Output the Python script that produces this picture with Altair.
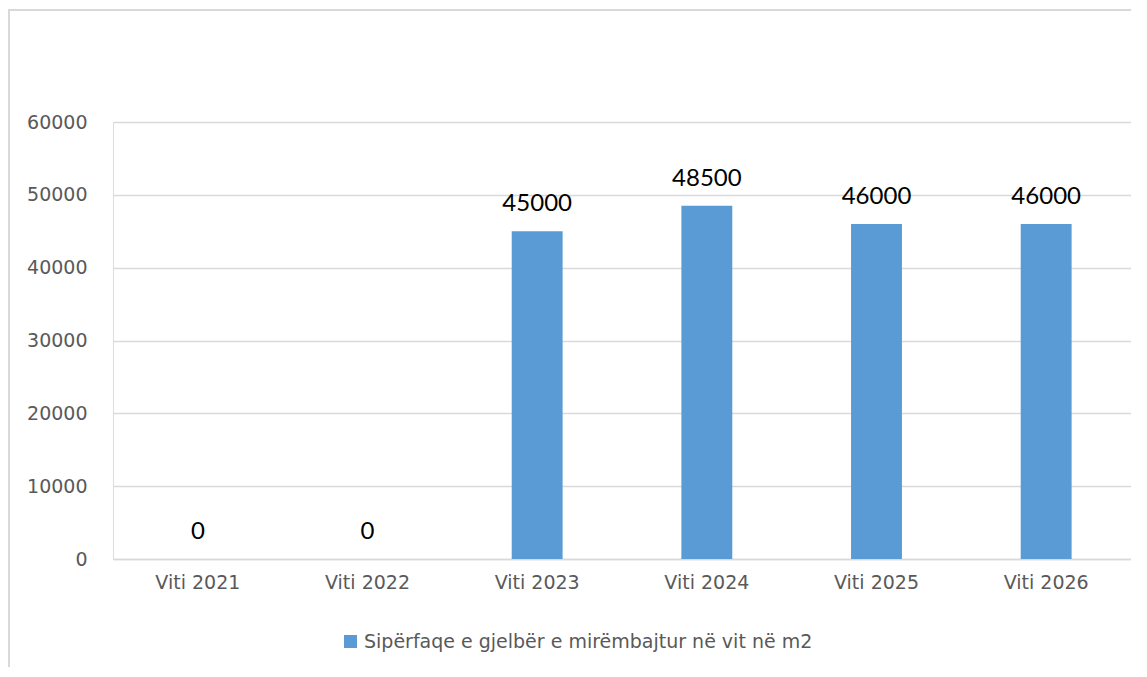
import altair as alt
import pandas as pd

categories = ["Viti 2021", "Viti 2022", "Viti 2023", "Viti 2024", "Viti 2025", "Viti 2026"]
values = [0, 0, 45000, 48500, 46000, 46000]
series_name = "Sipërfaqe e gjelbër e mirëmbajtur në vit në m2"
y_ticks = [0, 10000, 20000, 30000, 40000, 50000, 60000]

df = pd.DataFrame({"cat": categories, "val": values, "series": [series_name] * len(categories)})

W, H = 1018, 437

base = alt.Chart(df)

x_enc = alt.X("cat:N", sort=categories, title=None,
              scale=alt.Scale(paddingInner=0.7, paddingOuter=0.35),
              axis=alt.Axis(labelAngle=0, labelFont="DejaVu Sans", labelFontSize=19,
                            labelColor="#595959", ticks=False, domain=True,
                            domainColor="#d9d9d9", domainWidth=1.5, labelPadding=14))
y_enc = alt.Y("val:Q", title=None,
              scale=alt.Scale(domain=[0, 60000]),
              axis=alt.Axis(values=y_ticks, labelFont="DejaVu Sans", labelFontSize=19,
                            labelColor="#595959", ticks=False, domain=False,
                            gridColor="#d9d9d9", gridWidth=1.5, labelPadding=26,
                            format="d"))

bars = base.mark_bar(color="#5B9BD5").encode(
    x=x_enc, y=y_enc,
    color=alt.Color("series:N", scale=alt.Scale(range=["#5B9BD5"]),
                    legend=alt.Legend(title=None, orient="none", legendX=228, legendY=510,
                                      symbolType="square", symbolSize=170,
                                      symbolStrokeWidth=0,
                                      labelFont="DejaVu Sans", labelFontSize=19,
                                      labelColor="#595959", labelLimit=0)),
)

labels = base.mark_text(baseline="alphabetic", dy=-20, font="Lato", fontSize=24,
                        color="#000000").encode(
    x=alt.X("cat:N", sort=categories), y="val:Q", text="val:Q")

border = base.mark_rect(fill=None, stroke="#d9d9d9", strokeWidth=1.5).encode(
    x=alt.value(-104), x2=alt.value(1200), y=alt.value(-112), y2=alt.value(700))

chart = alt.layer(border, bars, labels).properties(
    width=W, height=H,
    autosize=alt.AutoSizeParams(type="none"),
    padding={"left": 105, "top": 114, "right": 0, "bottom": 108},
).configure_view(strokeWidth=0, stroke="transparent").configure(background="white")

chart.save("out.html", embed_options={"renderer": "svg", "actions": False})
